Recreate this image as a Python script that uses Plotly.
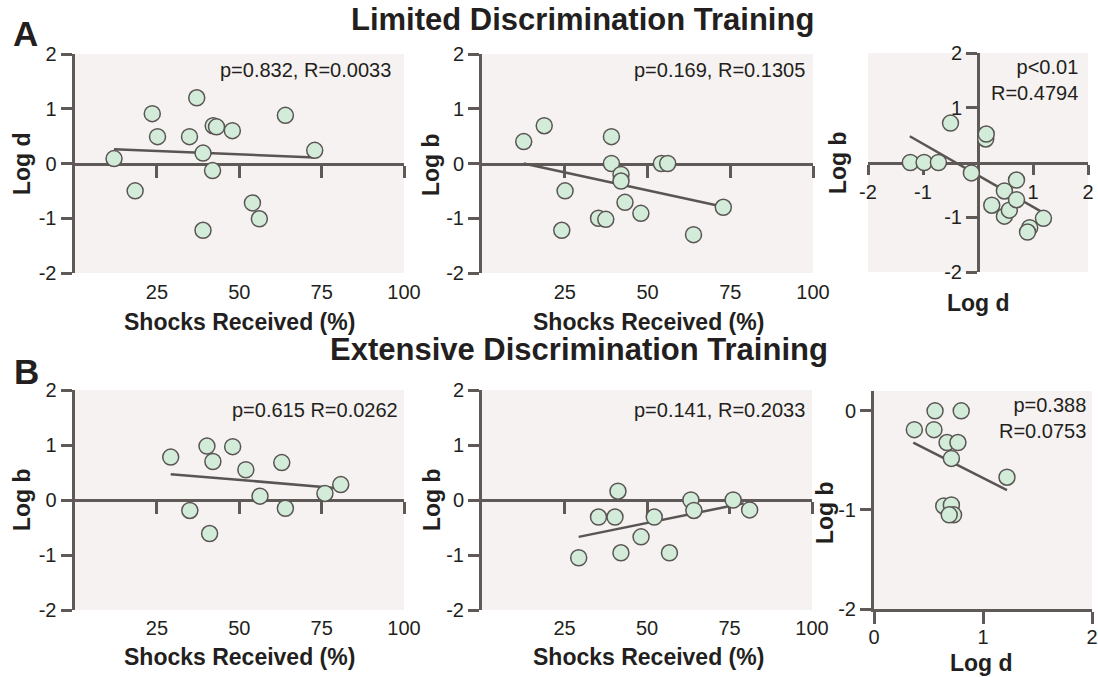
import plotly.graph_objects as go

W, H = 1098, 677

# ---------------- data ----------------
# Panel A (Limited Discrimination Training)
a1_shocks = [12.0, 18.4, 23.6, 25.2, 34.9, 37.1, 39.0, 39.0, 41.9, 42.1, 43.1, 47.9, 54.0, 56.1, 64.0, 72.9]
a1_logd = [0.09, -0.50, 0.91, 0.49, 0.49, 1.20, 0.19, -1.22, -0.13, 0.69, 0.67, 0.60, -0.72, -1.01, 0.88, 0.24]
a1_fit_x = [12.0, 72.9]
a1_fit_y = [0.26, 0.11]

a2_shocks = [12.6, 18.8, 25.1, 24.1, 35.2, 37.4, 39.1, 39.1, 42.0, 42.0, 43.2, 48.0, 54.2, 56.1, 63.9, 72.9]
a2_logb = [0.40, 0.69, -0.50, -1.22, -1.00, -1.02, 0.49, 0.0, -0.20, -0.32, -0.71, -0.91, 0.0, 0.0, -1.30, -0.80]
a2_fit_x = [12.6, 72.9]
a2_fit_y = [0.0, -0.79]

a3_logd = [-1.23, -0.98, -0.72, -0.50, -0.12, 0.14, 0.15, 0.25, 0.48, 0.48, 0.57, 0.70, 0.70, 0.94, 0.90, 1.19]
a3_logb = [0.0, 0.0, 0.0, 0.72, -0.19, 0.43, 0.52, -0.78, -0.52, -0.98, -0.87, -0.32, -0.68, -1.19, -1.27, -1.02]
a3_fit_x = [-1.24, 1.19]
a3_fit_y = [0.48, -0.92]

# Panel B (Extensive Discrimination Training)
b1_shocks = [29.2, 35.0, 40.2, 41.0, 42.0, 48.0, 52.0, 56.3, 62.9, 64.0, 76.0, 80.8]
b1_logb = [0.78, -0.19, 0.98, -0.61, 0.70, 0.97, 0.55, 0.07, 0.68, -0.15, 0.12, 0.28]
b1_fit_x = [29.2, 79.0]
b1_fit_y = [0.47, 0.22]

b2_shocks = [29.3, 35.3, 40.3, 41.2, 42.1, 48.2, 52.2, 56.8, 63.3, 64.2, 76.1, 81.1]
b2_logb = [-1.05, -0.31, -0.31, 0.16, -0.96, -0.67, -0.31, -0.96, 0.0, -0.19, 0.0, -0.18]
b2_fit_x = [29.3, 79.3]
b2_fit_y = [-0.67, -0.06]

b3_logd = [0.37, 0.56, 0.55, 0.80, 0.67, 0.77, 0.71, 0.64, 0.71, 0.73, 0.69, 1.22]
b3_logb = [-0.19, 0.0, -0.19, 0.0, -0.32, -0.32, -0.48, -0.96, -0.95, -1.05, -1.05, -0.67]
b3_fit_x = [0.36, 1.22]
b3_fit_y = [-0.32, -0.80]

stats_text = ["p=0.832, R=0.0033", "p=0.169, R=0.1305", "p<0.01<br>R=0.4794",
              "p=0.615 R=0.0262", "p=0.141, R=0.2033", "p=0.388<br>R=0.0753"]
titles = ["Limited Discrimination Training", "Extensive Discrimination Training"]
shock_ticks = [25, 50, 75, 100]
log_ticks_full = [-2, -1, 0, 1, 2]
log_ticks_cross = [-2, -1, 1, 2]

# ---------------- styling ----------------
FONT = "Liberation Sans, Arial, Helvetica, sans-serif"
TXT = "#231f20"
AXC = "#5f5a58"
BG = "#f6f2f1"
MFILL = "#d3ecda"
MLINE = "#5a5553"
TICKF = dict(family=FONT, size=20, color=TXT)


def px(p):
    return p / W


def py(p):
    return 1 - p / H


def lbl(v):
    return [str(t) for t in v]


fig = go.Figure()

panels = [
    (a1_shocks, a1_logd, a1_fit_x, a1_fit_y, "x", "y"),
    (a2_shocks, a2_logb, a2_fit_x, a2_fit_y, "x2", "y2"),
    (a3_logd, a3_logb, a3_fit_x, a3_fit_y, "x3", "y3"),
    (b1_shocks, b1_logb, b1_fit_x, b1_fit_y, "x4", "y4"),
    (b2_shocks, b2_logb, b2_fit_x, b2_fit_y, "x5", "y5"),
    (b3_logd, b3_logb, b3_fit_x, b3_fit_y, "x6", "y6"),
]
for xs, ys, fx, fy, xa, ya in panels:
    fig.add_trace(go.Scatter(x=fx, y=fy, mode="lines", xaxis=xa, yaxis=ya,
                             line=dict(color=MLINE, width=2.5), showlegend=False,
                             hoverinfo="skip"))
    fig.add_trace(go.Scatter(x=xs, y=ys, mode="markers", xaxis=xa, yaxis=ya,
                             marker=dict(size=16, color=MFILL,
                                         line=dict(color=MLINE, width=1.5)),
                             showlegend=False))

common = dict(showline=True, linewidth=3, linecolor=AXC, ticks="outside",
              tickwidth=3, tickcolor=AXC, showgrid=False, zeroline=False,
              layer="below traces", tickfont=TICKF, fixedrange=True,
              automargin=False)

# pixel geometry of plotting areas
A_top, A_bot = 54, 273
B_top, B_bot = 390, 610
L1, R1 = 74.5, 404
L2, R2 = 482, 813


def shock_x(dom, ypos):
    return dict(common, domain=dom, range=[0, 100], anchor="free", position=ypos,
                tickvals=shock_ticks, ticktext=lbl(shock_ticks), ticklen=12,
                ticklabelstandoff=97)


def left_y(dom, anchor):
    return dict(common, domain=dom, range=[-2, 2], anchor=anchor,
                tickvals=log_ticks_full, ticktext=lbl(log_ticks_full), ticklen=11)


A_dom = [py(A_bot), py(A_top)]
B_dom = [py(B_bot), py(B_top)]
A_mid = (A_dom[0] + A_dom[1]) / 2
B_mid = (B_dom[0] + B_dom[1]) / 2

A3_xd = [px(868), px(1088)]
A3_yd = [py(272), py(53)]
B3_xd = [px(874), px(1092)]
B3_yd = [py(609), py(391)]

fig.update_layout(
    width=W, height=H, margin=dict(l=0, r=0, t=0, b=0, pad=0, autoexpand=False),
    paper_bgcolor="white", plot_bgcolor=BG, showlegend=False,
    font=dict(family=FONT, color=TXT),
    xaxis=shock_x([px(L1), px(R1)], A_mid),
    yaxis=left_y(A_dom, "x"),
    xaxis2=shock_x([px(L2), px(R2)], A_mid),
    yaxis2=left_y(A_dom, "x2"),
    xaxis3=dict(common, domain=A3_xd, range=[-2, 2], anchor="free",
                position=(A3_yd[0] + A3_yd[1]) / 2, tickvals=log_ticks_cross,
                ticktext=lbl(log_ticks_cross), ticklen=10),
    yaxis3=dict(common, domain=A3_yd, range=[-2, 2], anchor="free",
                position=(A3_xd[0] + A3_xd[1]) / 2, tickvals=log_ticks_cross,
                ticktext=lbl(log_ticks_cross), ticklen=11),
    xaxis4=shock_x([px(L1), px(R1)], B_mid),
    yaxis4=left_y(B_dom, "x4"),
    xaxis5=shock_x([px(L2), px(812)], B_mid),
    yaxis5=left_y(B_dom, "x5"),
    xaxis6=dict(common, domain=B3_xd, range=[0, 2], anchor="y6",
                tickvals=[0, 1, 2], ticktext=["0", "1", "2"], ticklen=12,
                ticklabelstandoff=-4),
    yaxis6=dict(common, domain=B3_yd, range=[-2, 0.2], anchor="x6",
                tickvals=[-2, -1, 0], ticktext=["-2", "-1", "0"], ticklen=11),
)

ann = []


def text(t, x, y, size, bold=False, xanchor="center", angle=0, align="center"):
    ann.append(dict(text=f"<b>{t}</b>" if bold else t, x=px(x), y=py(y),
                    xref="paper", yref="paper", showarrow=False,
                    xanchor=xanchor, yanchor="middle", textangle=angle, align=align,
                    font=dict(family=FONT, size=size, color=TXT)))


# panel letters and titles
text("A", 25, 34, 35, bold=True)
text("B", 26, 371, 35, bold=True)
text(titles[0], 582, 20, 31, bold=True)
text(titles[1], 579, 349, 31, bold=True)

# axis titles
for cx, cy in [(239, 322), (648, 322), (239, 657), (648, 657)]:
    text("Shocks Received (%)", cx, cy, 23, bold=True)
text("Log d", 978, 303, 23, bold=True)
text("Log d", 981, 663, 23, bold=True)
for t, cx, cy in [("Log d", 22, 164), ("Log b", 431, 164), ("Log b", 838, 163),
                  ("Log b", 22, 500), ("Log b", 432, 500), ("Log b", 825, 512)]:
    text(t, cx, cy, 23, bold=True, angle=-90)

# statistics
for t, rx, cy in zip(stats_text, [393, 807, 1080, 400, 807, 1088],
                     [70, 70, 80, 410, 410, 418]):
    text(t, rx, cy, 20, xanchor="right", align="right")

fig.update_layout(annotations=ann)
fig.write_html("out.html",
               config={"displayModeBar": False, "staticPlot": True},
               post_script="document.body.style.margin='0px';"
                           "document.body.style.overflow='hidden';")
